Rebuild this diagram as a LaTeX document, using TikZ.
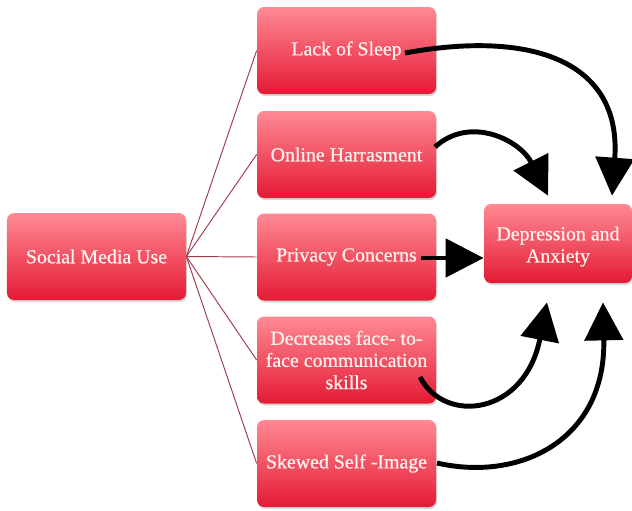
\documentclass[tikz,border=0pt]{standalone}
\usepackage{fontspec}
\setmainfont{Liberation Serif}
\newfontfamily\boxfont[FakeBold=0.7]{Liberation Serif}
\usetikzlibrary{arrows.meta,shadows}
\definecolor{boxTop}{RGB}{255,138,148}
\definecolor{boxBot}{RGB}{228,26,52}
\definecolor{boxText}{RGB}{255,242,236}
\definecolor{fanRed}{RGB}{160,62,76}
\begin{document}
\begin{tikzpicture}[x=0.2mm,y=-0.2mm,
    causeBox/.style={rounded corners=4pt,top color=boxTop,bottom color=boxBot,text=boxText,
        minimum width=3.58cm,minimum height=1.74cm,inner sep=2pt,align=center,
        font=\boxfont\fontsize{11.3}{12.6}\selectfont,
        drop shadow={shadow xshift=0.6pt,shadow yshift=-1.2pt,opacity=0.25,fill=black!60}},
    effectBox/.style={causeBox,minimum width=2.96cm,minimum height=1.58cm},
    fanLine/.style={draw=fanRed,line width=0.55pt},
    bigArr/.style={-{Triangle[length=0.76cm,width=0.76cm]},line width=2.8pt,black},
]
\useasboundingbox (0,0) rectangle (632,510);
% source and the five factors
\node[causeBox] (smu) at (96.5,256.5) {Social Media Use};
\node[causeBox] (sleep) at (346.5,50.5) {Lack of Sleep};
\node[causeBox] (online) at (346.5,154.5) {Online Harrasment};
\node[causeBox] (privacy) at (346.5,257) {Privacy Concerns};
\node[causeBox] (face) at (346.5,360) {Decreases face- to-\\face communication\\skills};
\node[causeBox] (skewed) at (346.5,463.5) {Skewed Self -Image};
\node[effectBox] (dep) at (558,243.5) {\rule{0pt}{11.4pt}Depression and\\Anxiety};
% fan out from the source
\foreach \f in {sleep,online,privacy,face,skewed}
    \draw[fanLine] (smu.east) -- (\f.west);
% tails of the thick arrows
\coordinate (sleepTail) at (405,53);
\coordinate (onlineTail) at (435,147);
\coordinate (privTail) at (421,258);
\coordinate (faceTail) at (420,377);
\coordinate (skewTail) at (437,463);
\draw[bigArr] (sleepTail) .. controls (530,30) and (622,60) .. ([xshift=1.08cm,yshift=0.16cm]dep.north);
\draw[bigArr] (onlineTail) .. controls (470,115) and (520,140) .. ([xshift=-0.2cm,yshift=0.16cm]dep.north);
\draw[bigArr] (privTail) -- (privTail -| dep.west);
\draw[bigArr] (faceTail) .. controls (445,425) and (525,415) .. ([xshift=-0.22cm,yshift=-0.38cm]dep.south);
\draw[bigArr] (skewTail) .. controls (520,482) and (606,440) .. ([xshift=0.9cm,yshift=-0.38cm]dep.south);
\end{tikzpicture}
\end{document}
